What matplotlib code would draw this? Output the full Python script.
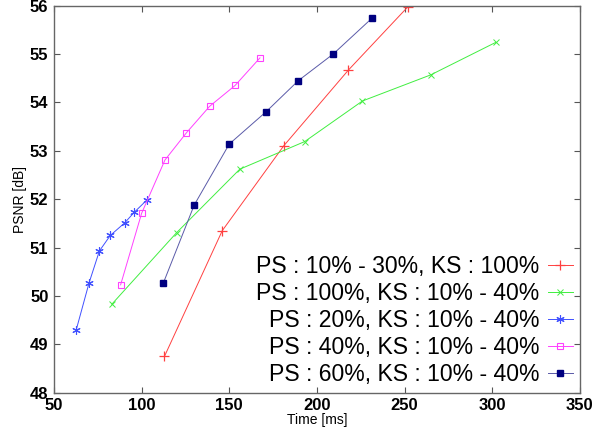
import matplotlib
matplotlib.use("Agg")
import matplotlib.pyplot as plt

plt.rcParams['font.family'] = ['Liberation Sans', 'DejaVu Sans']

# PS : 10% - 30%, KS : 100%
red_x = [113, 146, 181, 218, 252]
red_y = [48.75, 51.35, 53.1, 54.67, 55.98]
# PS : 100%, KS : 10% - 40%
green_x = [83, 120, 156, 193, 226, 265, 302]
green_y = [49.83, 51.31, 52.62, 53.19, 54.03, 54.57, 55.24]
# PS : 20%, KS : 10% - 40%
blue_x = [62.6, 70.0, 75.9, 82.1, 90.3, 95.8, 102.9]
blue_y = [49.29, 50.27, 50.93, 51.25, 51.51, 51.73, 51.98]
# PS : 40%, KS : 10% - 40%
mag_x = [88.0, 100.0, 113.3, 125.5, 138.8, 153.3, 167.5]
mag_y = [50.23, 51.71, 52.81, 53.37, 53.92, 54.35, 54.92]
# PS : 60%, KS : 10% - 40%
navy_x = [112.4, 130.0, 150.0, 171.1, 189.4, 209.3, 231.4]
navy_y = [50.27, 51.88, 53.14, 53.81, 54.45, 55.0, 55.74]

labels = ["PS : 10% - 30%, KS : 100%",
          "PS : 100%, KS : 10% - 40%",
          "PS : 20%, KS : 10% - 40%",
          "PS : 40%, KS : 10% - 40%",
          "PS : 60%, KS : 10% - 40%"]

fig = plt.figure(figsize=(6.11, 4.33), dpi=100)
ax = fig.add_axes([0.0884, 0.093, 0.8606, 0.894])

lw = 0.7
ax.plot(red_x, red_y, color="#ff4040", marker="+", ms=7, mew=0.9, lw=lw, label=labels[0])
ax.plot(green_x, green_y, color="#40ee40", marker="x", ms=4, mew=0.7, lw=lw, label=labels[1])
ax.plot(blue_x, blue_y, color="#4050ff", marker=(6, 2, 0), ms=6, mew=0.8, lw=lw, label=labels[2])
ax.plot(mag_x, mag_y, color="#ff40ff", marker="s", ms=4.5, mfc="none", mew=0.8, lw=lw, label=labels[3])
ax.plot(navy_x, navy_y, color="#5a5aa8", marker="s", ms=5, mfc="#000080", mec="#000080", lw=lw, label=labels[4])

ax.set_xlim(50, 350)
ax.set_ylim(48, 56)
ax.set_xticks([50, 100, 150, 200, 250, 300, 350])
ax.set_yticks(range(48, 57))
ax.tick_params(direction="in", top=True, right=True, length=4, width=0.8,
               color="#555555", labelsize=12, pad=4)
for t in ax.get_xticklabels() + ax.get_yticklabels():
    t.set_fontweight("bold")
for s in ax.spines.values():
    s.set_color("#666666")
    s.set_linewidth(1.0)

ax.set_xlabel("Time [ms]", fontsize=10, labelpad=0)
ax.set_ylabel("PSNR [dB]", fontsize=10, labelpad=2)

leg = ax.legend(loc="lower right", markerfirst=False, frameon=False,
                fontsize=16.6, handlelength=1.1, handletextpad=0.35,
                labelspacing=0.17, borderaxespad=0.0, borderpad=0.3)

fig.savefig("out.png", dpi=100)
